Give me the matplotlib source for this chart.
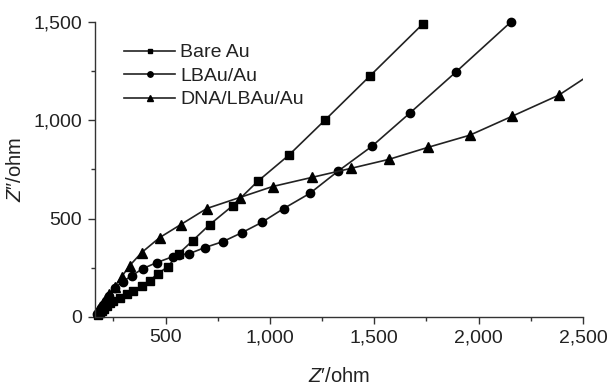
import matplotlib
matplotlib.use("Agg")
import matplotlib.pyplot as plt
from matplotlib.ticker import FuncFormatter, MultipleLocator

plt.rcParams['font.family'] = ['Liberation Sans', 'DejaVu Sans']
plt.rcParams['mathtext.fontset'] = 'custom'
plt.rcParams['mathtext.it'] = 'Liberation Sans:italic'
plt.rcParams['mathtext.rm'] = 'Liberation Sans'

# Data
bare_x = [175, 185, 195, 205, 220, 235, 246, 279, 313, 342, 385, 423, 462, 510, 562, 630, 711, 821, 941, 1090, 1263, 1478, 1733]
bare_y = [10, 20, 30, 42, 55, 68, 82, 97, 117, 133, 158, 184, 219, 255, 321, 388, 469, 565, 689, 822, 1000, 1224, 1490]

lb_x = [172, 180, 190, 200, 215, 230, 255, 294, 337, 390, 457, 534, 562, 612, 687, 775, 865, 960, 1066, 1191, 1325, 1488, 1670, 1891, 2155]
lb_y = [15, 30, 45, 60, 80, 105, 148, 179, 209, 245, 276, 306, 316, 321, 352, 383, 428, 480, 551, 628, 740, 867, 1036, 1245, 1500]

dna_x = [172, 182, 195, 210, 230, 255, 289, 327, 385, 471, 572, 697, 855, 1013, 1200, 1387, 1570, 1757, 1958, 2160, 2385, 2610]
dna_y = [20, 40, 60, 85, 115, 153, 204, 260, 327, 403, 469, 551, 607, 663, 709, 755, 801, 862, 924, 1020, 1128, 1285]

series_labels = ["Bare Au", "LBAu/Au", "DNA/LBAu/Au"]
x_ticks = [500, 1000, 1500, 2000, 2500]
y_ticks = [0, 500, 1000, 1500]

fig = plt.figure(figsize=(6.11, 3.85), dpi=100)
ax = fig.add_axes([0.155, 0.177, 0.799, 0.766])

lc = '#222222'
ax.plot(bare_x, bare_y, '-', color=lc, lw=1.2, marker='s', ms=5.5, mfc='black', mec='black', label=series_labels[0], clip_on=False)
ax.plot(lb_x, lb_y, '-', color=lc, lw=1.2, marker='o', ms=6, mfc='black', mec='black', label=series_labels[1], clip_on=False)
ax.plot(dna_x, dna_y, '-', color=lc, lw=1.2, marker='^', ms=6.5, mfc='black', mec='black', label=series_labels[2])

ax.set_xlim(160, 2500)
ax.set_ylim(0, 1500)
ax.set_xticks(x_ticks)
ax.set_yticks(y_ticks)
ax.xaxis.set_minor_locator(MultipleLocator(250))
ax.yaxis.set_minor_locator(MultipleLocator(250))
fmt = FuncFormatter(lambda v, p: f"{int(v):,}")
ax.xaxis.set_major_formatter(fmt)
ax.yaxis.set_major_formatter(fmt)

for s in ['top', 'right']:
    ax.spines[s].set_visible(False)
for s in ['left', 'bottom']:
    ax.spines[s].set_linewidth(1.0)
    ax.spines[s].set_color('#333333')

ax.tick_params(which='major', direction='out', length=5, width=1.0, labelsize=14, color='#333333', pad=4, labelcolor='#222222')
ax.tick_params(which='minor', direction='out', length=3, width=1.0, color='#333333')

ax.set_xlabel("$Z$\u2032/ohm", fontsize=14.5, labelpad=15, color='#222222')
ax.set_ylabel("$Z$\u2033/ohm", fontsize=14.5, labelpad=6, color='#222222')

leg = ax.legend(loc='upper left', bbox_to_anchor=(0.025, 0.985), frameon=False, fontsize=14,
                handlelength=2.6, handletextpad=0.26, labelspacing=0.3, markerscale=0.65)
for t in leg.get_texts():
    t.set_color('#222222')

fig.savefig("out.png", dpi=100)
